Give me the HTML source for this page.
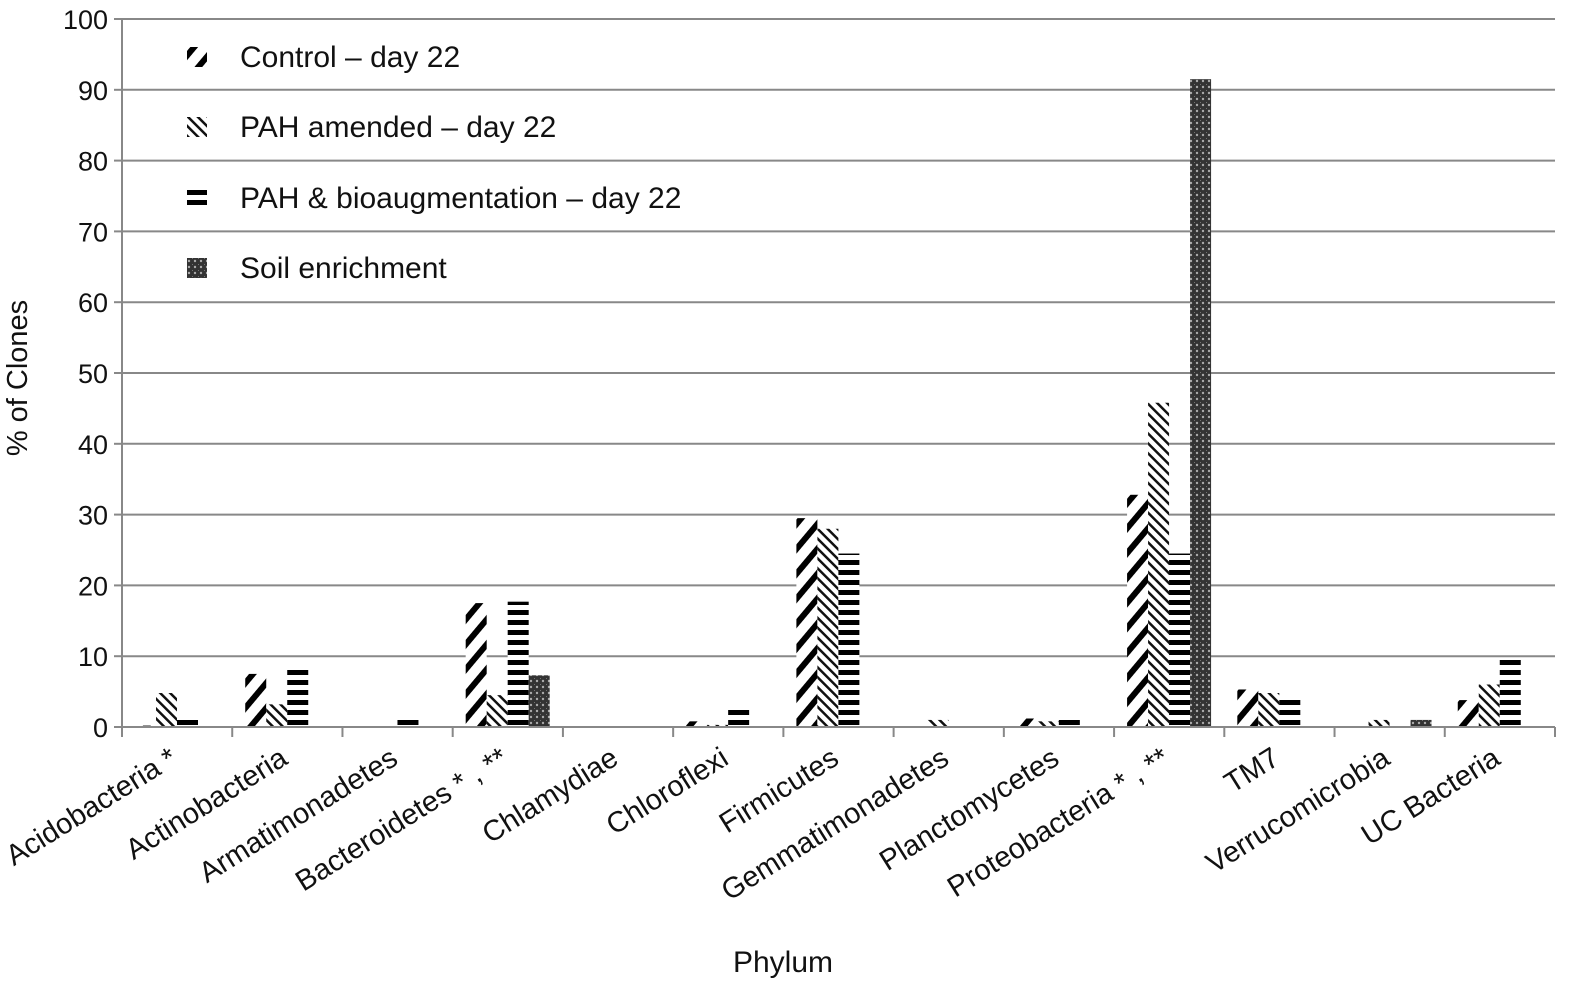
<!DOCTYPE html>
<html><head><meta charset="utf-8"><style>body{margin:0;background:#fff}svg{display:block;font-family:"Liberation Sans",sans-serif}</style></head>
<body>
<svg id="chart" width="1585" height="989" xmlns="http://www.w3.org/2000/svg">
<defs>
<pattern id="pCtrl" patternUnits="userSpaceOnUse" width="16" height="16" patternTransform="rotate(40)"><rect width="16" height="16" fill="#fff"/><rect width="6" height="16" fill="#000"/></pattern>
<pattern id="pPah" patternUnits="userSpaceOnUse" width="7" height="7" patternTransform="rotate(-45)"><rect width="7" height="7" fill="#fff"/><rect width="2.5" height="7" fill="#111"/></pattern>
<pattern id="pBio" patternUnits="userSpaceOnUse" width="10" height="10"><rect width="10" height="10" fill="#fff"/><rect y="0" width="10" height="5" fill="#000"/></pattern>
<pattern id="pSoil" patternUnits="userSpaceOnUse" width="6" height="6"><rect width="6" height="6" fill="#333"/><circle cx="3" cy="3" r="1.2" fill="#aaa"/><circle cx="0" cy="0" r="1" fill="#888"/></pattern>
</defs>
<g id="grid"></g><g id="bars"></g><g id="axes"></g>
<g font-size="30" fill="#111">
<rect x="187" y="47" width="20" height="20" fill="url(#pCtrl)"/><text x="240" y="67">Control – day 22</text>
<rect x="187" y="117" width="20" height="20" fill="url(#pPah)"/><text x="240" y="137">PAH amended – day 22</text>
<rect x="187" y="188" width="20" height="20" fill="url(#pBio)"/><text x="240" y="208">PAH &amp; bioaugmentation – day 22</text>
<rect x="187" y="258" width="20" height="20" fill="url(#pSoil)"/><text x="240" y="278">Soil enrichment</text>
</g>
<text font-size="29" fill="#111" transform="translate(27,378) rotate(-90)" text-anchor="middle">% of Clones</text>
<text font-size="30" fill="#111" x="783" y="972" text-anchor="middle">Phylum</text>
</svg>
<script>
const categories=["Acidobacteria *","Actinobacteria","Armatimonadetes","Bacteroidetes * , **","Chlamydiae","Chloroflexi","Firmicutes","Gemmatimonadetes","Planctomycetes","Proteobacteria * , **","TM7","Verrucomicrobia","UC Bacteria"];
const control=[0.2,7.5,0,17.5,0,0.8,29.5,0,1.2,32.8,5.3,0,3.8];
const pahAmended=[4.8,3.2,0,4.5,0,0.3,28,1,0.8,45.8,4.8,1,6];
const pahBio=[1.5,8.5,1.2,17.7,0.2,2.7,24.5,0.2,1.5,24.5,4.3,0.2,9.8];
const soil=[0,0,0,7.3,0,0,0,0,0,91.5,0,1,0];
const yTicks=[0,10,20,30,40,50,60,70,80,90,100];
const NS="http://www.w3.org/2000/svg";
const x0=122,x1=1555,y0=727,y1=19;
const step=(x1-x0)/categories.length;
const y=v=>y0-(v/100)*(y0-y1);
function mk(t,a,p){const e=document.createElementNS(NS,t);for(const k in a)e.setAttribute(k,a[k]);p.appendChild(e);return e;}
const grid=document.getElementById('grid'),bars=document.getElementById('bars'),axes=document.getElementById('axes');
yTicks.forEach(t=>{
 const l=mk('line',{x1:x0,x2:x1,y1:y(t),y2:y(t),stroke:'#888','stroke-width':2},grid);
 
 
 mk('line',{x1:x0-8,x2:x0,y1:y(t),y2:y(t),stroke:'#888','stroke-width':2},axes);
 const tx=mk('text',{x:x0-14,y:y(t)+10,'text-anchor':'end','font-size':27,fill:'#111'},axes);
 tx.textContent=t;
 
 
});
const series=[[control,'url(#pCtrl)'],[pahAmended,'url(#pPah)'],[pahBio,'url(#pBio)'],[soil,'url(#pSoil)']];
const bw=21;
categories.forEach((c,i)=>{
 const gx=x0+i*step+13;
 series.forEach((s,j)=>{
  const v=s[0][i]; if(v<=0) return;
  const r=mk('rect',{x:gx+j*bw,y:y(v),width:bw,height:y0-y(v),fill:s[1]},bars);
  
  
 });
 mk('line',{x1:x0+i*step,x2:x0+i*step,y1:y0,y2:y0+10,stroke:'#888','stroke-width':2},axes);
 const cx=x0+(i+0.5)*step+2;
 const cy=y0+36;
 const tx=mk('text',{x:cx,y:cy,'text-anchor':'end','font-size':29,fill:'#111',transform:`rotate(-32 ${cx} ${cy})`},axes);
 tx.textContent=c;
 
 
});
mk('line',{x1:x1,x2:x1,y1:y0,y2:y0+10,stroke:'#888','stroke-width':2},axes);
mk('line',{x1:x0,x2:x1,y1:y0,y2:y0,stroke:'#888','stroke-width':2},axes);
mk('line',{x1:x0,x2:x0,y1:y1,y2:y0,stroke:'#888','stroke-width':2},axes);
</script>
</body></html>
